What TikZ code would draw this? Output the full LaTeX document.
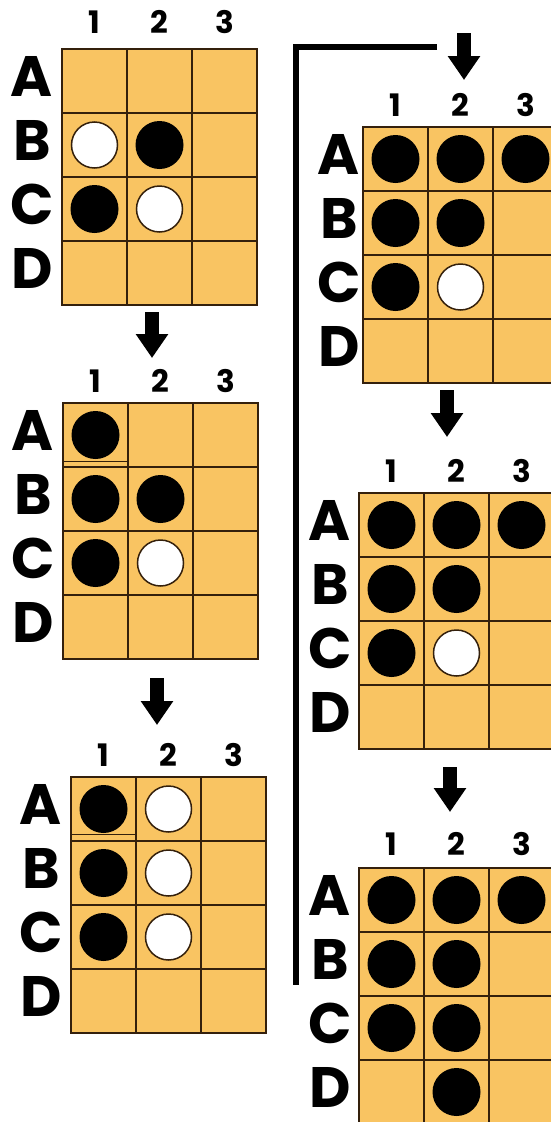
\documentclass[tikz,border=0pt]{standalone}
\usepackage{fontspec}
\setmainfont{Poppins}
\usetikzlibrary{arrows.meta}
\definecolor{boardfill}{RGB}{249,196,98}
\definecolor{gridcol}{RGB}{52,32,12}
\tikzset{
  boardbg/.style={fill=boardfill},
  gridline/.style={draw=gridcol, line width=2.5pt},
  rowlab/.style={font=\fontsize{57}{57}\selectfont\bfseries, inner sep=0pt, text=black},
  collab/.style={font=\fontsize{31}{31}\selectfont\bfseries, inner sep=0pt, text=black},
  blackstone/.style={circle, fill=black, minimum size=48pt, inner sep=0pt},
  whitestone/.style={circle, fill=white, draw=gridcol, line width=1.5pt, minimum size=46pt, inner sep=0pt},
  flowarrow/.style={line width=14pt, -{Triangle[width=31pt,length=24pt]}},
  bracket/.style={line width=6.5pt},
  notch/.style={draw=gridcol, line width=1.5pt},
}
% #1 name, #2 x0, #3 y0, #4 letter offset, #5 number offset
\newcommand\gameboard[5]{%
  \coordinate (#1-o) at (#2,#3);
  \fill[boardbg] (#2,#3) rectangle ++(195,256);
  \foreach \ii in {1,2} \draw[gridline] (#2+\ii*65,#3) -- ++(0,256);
  \foreach \jj in {1,2,3} \draw[gridline] (#2,#3+\jj*64) -- ++(195,0);
  \draw[gridline] (#2,#3) rectangle ++(195,256);
  \foreach \rr [count=\kk] in {A,B,C,D} {
    \node[rowlab] (#1-\rr) at (#2-#4,#3+\kk*64-37) {\rr};
    \foreach \cc in {1,2,3}
      \coordinate (#1-c\rr\cc) at (#2+\cc*65-32.5,#3+\kk*64-32);
  }
  \foreach \cc in {1,2,3} \node[collab] (#1-n\cc) at (#2+\cc*65-32.5,#3-#5) {\cc};
}
\newcommand\stone[3]{\node[#1stone] (#2-s#3) at (#2-c#3) {};}
\begin{document}
\begin{tikzpicture}[x=1pt,y=-1pt]
\useasboundingbox (0,0) rectangle (551,1122);
% boards
\gameboard{b1}{62}{49}{30}{27}
\gameboard{b2}{63}{403}{30}{22}
\gameboard{b3}{71}{777}{30}{22}
\gameboard{b4}{363}{127}{24}{22}
\gameboard{b5}{359}{493}{29}{22}
\gameboard{b6}{359}{868}{29}{24}
% notches under A1
\draw[notch] (63,461.5) coordinate (n2a) -- ++(66,0) coordinate (n2b);
\draw[notch] (71,834.5) coordinate (n3a) -- ++(66,0) coordinate (n3b);
% stones board 1
\stone{white}{b1}{B1}\stone{black}{b1}{B2}\stone{black}{b1}{C1}\stone{white}{b1}{C2}
% board 2
\stone{black}{b2}{A1}\stone{black}{b2}{B1}\stone{black}{b2}{B2}\stone{black}{b2}{C1}\stone{white}{b2}{C2}
% board 3
\stone{black}{b3}{A1}\stone{white}{b3}{A2}\stone{black}{b3}{B1}\stone{white}{b3}{B2}\stone{black}{b3}{C1}\stone{white}{b3}{C2}
% board 4
\stone{black}{b4}{A1}\stone{black}{b4}{A2}\stone{black}{b4}{A3}\stone{black}{b4}{B1}\stone{black}{b4}{B2}\stone{black}{b4}{C1}\stone{white}{b4}{C2}
% board 5
\stone{black}{b5}{A1}\stone{black}{b5}{A2}\stone{black}{b5}{A3}\stone{black}{b5}{B1}\stone{black}{b5}{B2}\stone{black}{b5}{C1}\stone{white}{b5}{C2}
% board 6
\stone{black}{b6}{A1}\stone{black}{b6}{A2}\stone{black}{b6}{A3}\stone{black}{b6}{B1}\stone{black}{b6}{B2}\stone{black}{b6}{C1}\stone{black}{b6}{C2}\stone{black}{b6}{D2}
% arrows
\coordinate (a1s) at (152,312); \coordinate (a1e) at (152,358);
\coordinate (a2s) at (157,678); \coordinate (a2e) at (157,725);
\coordinate (a3s) at (464,33);  \coordinate (a3e) at (464,80);
\coordinate (a4s) at (447,390); \coordinate (a4e) at (447,437);
\coordinate (a5s) at (450,767); \coordinate (a5e) at (450,812);
\draw[flowarrow] (a1s) -- (a1e);
\draw[flowarrow] (a2s) -- (a2e);
\draw[flowarrow] (a3s) -- (a3e);
\draw[flowarrow] (a4s) -- (a4e);
\draw[flowarrow] (a5s) -- (a5e);
% bracket connector
\coordinate (brs) at (437,47); \coordinate (brc) at (296,47); \coordinate (bre) at (296,985);
\draw[bracket] (brs) -- (brc) -- (bre);
\end{tikzpicture}
\end{document}
